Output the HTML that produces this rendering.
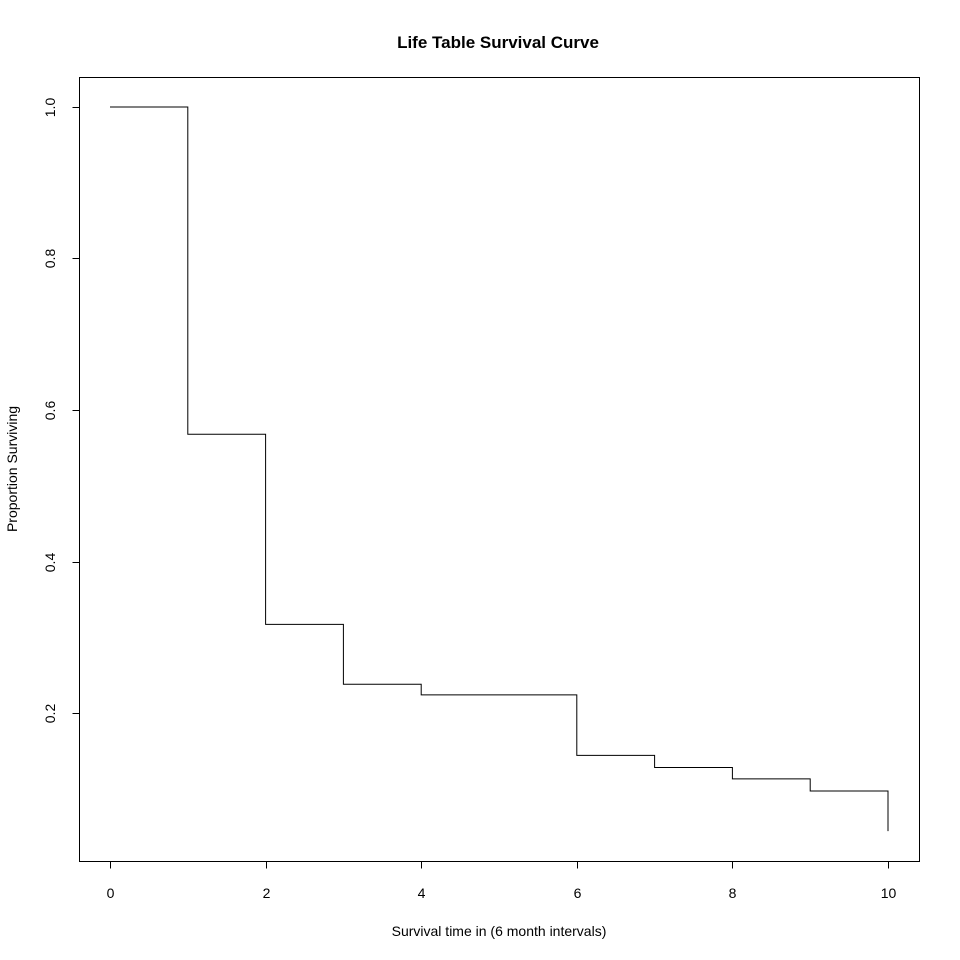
<!DOCTYPE html>
<html><head><meta charset="utf-8"><style>
body{margin:0;background:#fff}
svg{display:block;font-family:"Liberation Sans",Arial,sans-serif}
</style></head><body>
<svg width="960" height="960" viewBox="0 0 960 960">
<rect x="0" y="0" width="960" height="960" fill="#fff"/>
<text x="498" y="48" text-anchor="middle" font-size="17" font-weight="bold">Life Table Survival Curve</text>
<rect x="79.5" y="77.5" width="840" height="784" fill="none" stroke="#000"/>
<g id="axes"></g>
<path id="curve" fill="none" stroke="#000" stroke-width="1"/>
<text x="499" y="936" text-anchor="middle" font-size="14">Survival time in (6 month intervals)</text>
<text transform="translate(17,469) rotate(-90)" text-anchor="middle" font-size="14">Proportion Surviving</text>
</svg>
<script>
const times=[0,1,2,3,4,5,6,7,8,9,10];
const survival=[1,0.568,0.317,0.238,0.224,0.224,0.144,0.128,0.113,0.097,0.044];
const xTicks=[0,2,4,6,8,10];
const yTicks=[0.2,0.4,0.6,0.8,1.0];
const yTickLabels=["0.2","0.4","0.6","0.8","1.0"];
const NS="http://www.w3.org/2000/svg";
function xs(v){return 110+(v-0)*(888-110)/10;}
function ys(v){return 713-(v-0.2)*(713-107)/0.8;}
let d="M"+xs(times[0])+","+ys(survival[0]);
for(let i=1;i<times.length;i++){
  d+=" H"+xs(times[i])+" V"+ys(survival[i]);
}
document.getElementById('curve').setAttribute('d',d);
const g=document.getElementById('axes');
function mk(tag,attrs){const e=document.createElementNS(NS,tag);for(const k in attrs)e.setAttribute(k,attrs[k]);g.appendChild(e);return e;}
xTicks.forEach(t=>{
  const x=Math.round(xs(t))+0.5;
  const l=mk('line',{x1:x,x2:x,y1:861.5,y2:868.5,stroke:'#000'});
  
  
  const tx=mk('text',{x:x,y:898,'text-anchor':'middle','font-size':14});
  tx.textContent=String(t);
  
  
});
yTicks.forEach((t,i)=>{
  const y=Math.round(ys(t))+0.5;
  const l=mk('line',{x1:72.5,x2:79.5,y1:y,y2:y,stroke:'#000'});
  
  
  const tx=mk('text',{transform:'translate(55,'+y+') rotate(-90)','text-anchor':'middle','font-size':14});
  tx.textContent=yTickLabels[i];
  
  
});
</script>
</body></html>
